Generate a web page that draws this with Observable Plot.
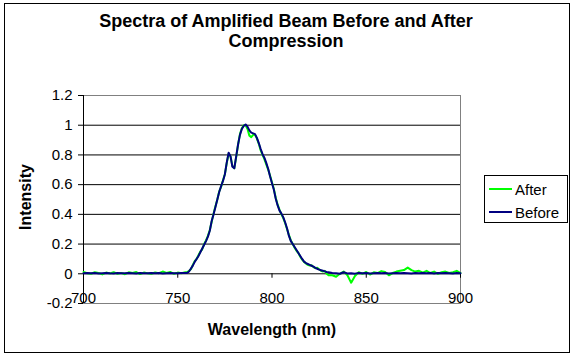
<!DOCTYPE html>
<html>
<head>
<meta charset="utf-8">
<script src="https://cdn.jsdelivr.net/npm/d3@7"></script>
<script src="https://cdn.jsdelivr.net/npm/@observablehq/plot@0.6"></script>
<style>
  html, body { margin: 0; padding: 0; background: #fff; }
  #chart { width: 575px; height: 357px; }
</style>
</head>
<body>
<div id="chart"></div>
<script>
const titleLines = ["Spectra of Amplified Beam Before and After", "Compression"];
const xLabel = "Wavelength (nm)";
const yLabel = "Intensity";
const seriesNames = ["After", "Before"];
const seriesColors = ["#00FF00", "#000080"];
const xTicks = [700, 750, 800, 850, 900];
const yTicks = [-0.2, 0, 0.2, 0.4, 0.6, 0.8, 1, 1.2];
const gridValues = [0, 0.2, 0.4, 0.6, 0.8, 1];

const wavelength = [
  700,702,704,706,708,710,712,714,716,718,720,722,724,726,728,730,732,734,736,738,740,742,744,746,748,750,752,754,
  755,756,757,758,759,760,761,762,763,764,
  765,766,767,768,769,770,771,772,773,774,
  775,776,777,778,779,780,781,782,783,784,
  785,786,787,788,789,790,791,792,793,794,
  795,796,797,798,799,800,801,802,803,804,
  805,806,807,808,809,810,811,812,813,814,
  815,816,817,818,819,820,821,822,823,824,
  825,826,827,828,829,830,
  832,834,836,838,840,842,844,846,848,850,852,854,856,858,860,862,864,866,868,870,872,874,876,878,880,882,884,886,888,890,892,894,896,898,900
];

const after = [
  0.012,0.004,0.0,0.01,0.006,-0.004,0.008,0.002,0.011,0.0,0.006,-0.003,0.01,0.005,0.012,-0.002,0.008,0.003,0.0,0.009,0.004,0.015,0.006,0.012,0.0,0.008,0.004,0.01,
  0.01,0.02,0.03,0.06,0.085,0.1,0.125,0.15,0.165,0.2,
  0.225,0.255,0.295,0.35,0.405,0.455,0.5,0.555,0.585,0.63,
  0.67,0.745,0.81,0.79,0.725,0.71,0.785,0.87,0.94,0.98,
  1.0,1.0,0.975,0.93,0.92,0.935,0.935,0.91,0.875,0.83,
  0.8,0.77,0.735,0.7,0.66,0.615,0.57,0.51,0.465,0.43,
  0.4,0.375,0.34,0.3,0.26,0.225,0.2,0.175,0.155,0.14,
  0.115,0.095,0.08,0.07,0.06,0.055,0.058,0.045,0.038,0.04,
  0.03,0.02,0.015,0.02,0.0,-0.01,
  -0.01,-0.02,0.0,0.015,-0.01,-0.06,-0.015,0.01,0.0,0.012,-0.005,0.01,0.005,0.018,0.012,-0.01,0.005,0.015,0.02,0.025,0.042,0.025,0.015,0.02,0.008,0.02,0.005,0.015,0.0,0.01,0.015,0.005,0.01,0.02,0.005
];

const before = [
  0.004,0.006,0.003,0.005,0.002,0.004,0.006,0.003,0.002,0.005,0.004,0.003,0.006,0.004,0.002,0.005,0.003,0.004,0.006,0.003,0.005,0.002,0.004,0.006,0.003,0.004,0.005,0.006,
  0.006,0.015,0.035,0.055,0.08,0.10,0.12,0.145,0.17,0.195,
  0.22,0.25,0.29,0.355,0.40,0.45,0.50,0.55,0.59,0.625,
  0.67,0.75,0.815,0.79,0.72,0.71,0.79,0.87,0.935,0.975,
  0.995,1.005,0.99,0.965,0.95,0.945,0.94,0.915,0.88,0.84,
  0.805,0.78,0.745,0.705,0.655,0.61,0.565,0.505,0.46,0.425,
  0.405,0.38,0.345,0.305,0.255,0.22,0.2,0.18,0.16,0.14,
  0.12,0.1,0.082,0.072,0.066,0.06,0.054,0.048,0.04,0.034,
  0.028,0.024,0.02,0.016,0.012,0.01,
  0.006,0.003,0.0,0.01,0.002,0.004,0.001,0.006,0.003,0.005,0.002,0.004,0.006,0.003,0.005,0.002,0.004,0.006,0.003,0.005,0.004,0.002,0.006,0.003,0.005,0.004,0.006,0.002,0.005,0.003,0.006,0.004,0.002,0.005,0.004
];

const afterRows = wavelength.map((w, i) => ({w, v: after[i]}));
const beforeRows = wavelength.map((w, i) => ({w, v: before[i]}));

const font = "'Liberation Sans', Arial, sans-serif";
const fmt = d => String(Math.round(d * 10) / 10);

const chart = Plot.plot({
  width: 575,
  height: 357,
  marginLeft: 83,
  marginRight: 115,
  marginTop: 95,
  marginBottom: 54,
  style: {fontFamily: font, fontSize: "15px", color: "black", background: "white", overflow: "visible"},
  x: {domain: [700, 900], axis: null},
  y: {domain: [-0.2, 1.2], axis: null},
  marks: [
    Plot.frame({stroke: "#808080", strokeWidth: 1}),
    Plot.ruleY(gridValues, {stroke: "black", strokeWidth: 1}),
    Plot.ruleX([700], {stroke: "black", strokeWidth: 1}),
    Plot.ruleX(xTicks, {y1: 0, y2: -0.03, stroke: "black"}),
    Plot.axisY({ticks: yTicks, tickSize: 5, tickPadding: 6, tickFormat: fmt, fontSize: 15, label: null}),
    Plot.text(xTicks, {x: d => d, frameAnchor: "bottom", dy: -5, text: d => String(d), fontSize: 15, lineAnchor: "middle"}),
    Plot.line(afterRows, {x: "w", y: "v", stroke: seriesColors[0], strokeWidth: 2}),
    Plot.line(beforeRows, {x: "w", y: "v", stroke: seriesColors[1], strokeWidth: 2})
  ]
});

const svg = d3.select(chart);
// outer chart frame
svg.insert("rect", ":first-child")
  .attr("x", 4.5).attr("y", 3.5).attr("width", 565).attr("height", 349)
  .attr("fill", "white").attr("stroke", "black").attr("stroke-width", 1);

// title
titleLines.forEach((t, i) => {
  svg.append("text").text(t)
    .attr("x", 286).attr("y", 27 + i * 20)
    .attr("text-anchor", "middle")
    .attr("font-family", font).attr("font-size", 18).attr("font-weight", "bold")
    .attr("fill", "black");
});

// axis titles
svg.append("text").text(xLabel)
  .attr("x", 272).attr("y", 335)
  .attr("text-anchor", "middle")
  .attr("font-family", font).attr("font-size", 16).attr("font-weight", "bold");

svg.append("text").text(yLabel)
  .attr("transform", "translate(31,197) rotate(-90)")
  .attr("text-anchor", "middle")
  .attr("font-family", font).attr("font-size", 16).attr("font-weight", "bold");

// legend
const lg = svg.append("g");
lg.append("rect").attr("x", 484.5).attr("y", 175.5).attr("width", 83).attr("height", 47)
  .attr("fill", "white").attr("stroke", "black");
seriesNames.forEach((name, i) => {
  const cy = 189 + i * 23;
  lg.append("line").attr("x1", 489).attr("x2", 512).attr("y1", cy).attr("y2", cy)
    .attr("stroke", seriesColors[i]).attr("stroke-width", 2);
  lg.append("text").text(name).attr("x", 515).attr("y", cy + 6)
    .attr("text-anchor", "start")
    .attr("font-family", font).attr("font-size", 15).attr("fill", "black");
});

document.getElementById("chart").appendChild(chart);
</script>
</body>
</html>
